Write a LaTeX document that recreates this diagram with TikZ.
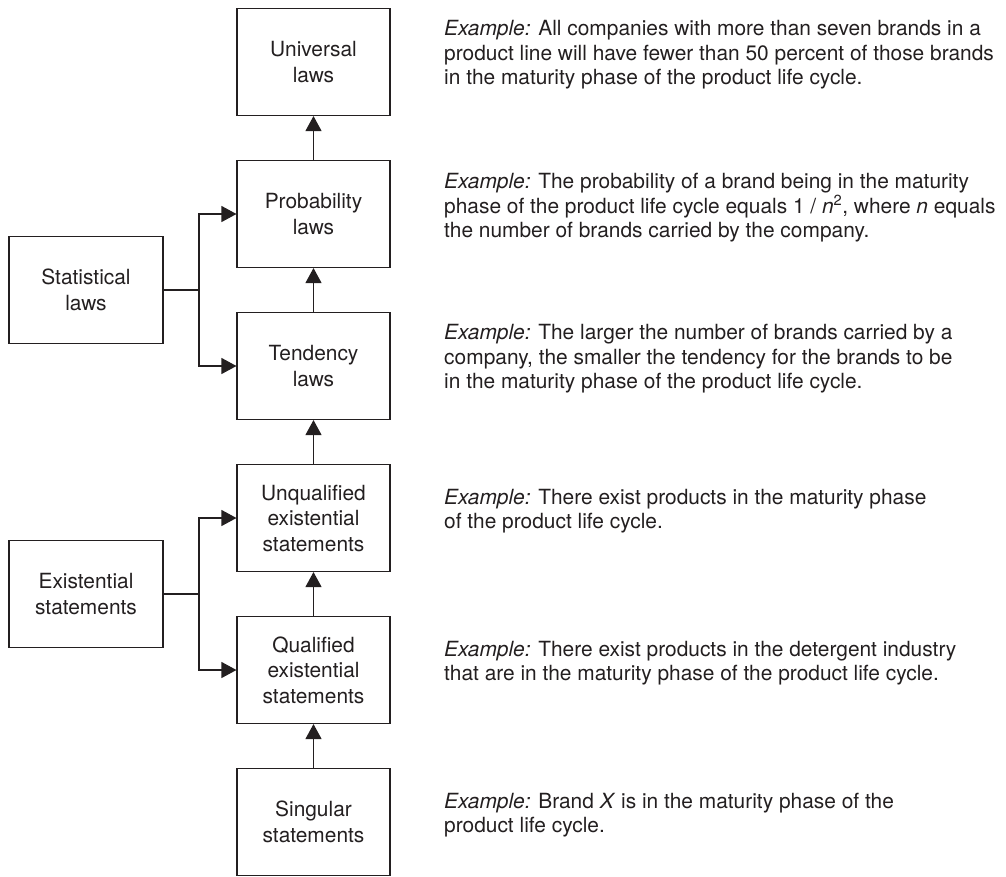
\documentclass[tikz,border=0pt]{standalone}
\usepackage{fontspec}
\setmainfont{TeX Gyre Heros}
\usepackage{tikz}
\usetikzlibrary{arrows.meta,positioning}
\usepackage{xcolor}
\definecolor{ink}{HTML}{231F20}
\newcommand{\eg}{\textit{Example:}}

\begin{document}
\begin{tikzpicture}[x=1pt,y=-1pt,
    lawbox/.style={draw=ink, line width=1.1pt, minimum width=153pt, minimum height=107pt,
      align=center, text=ink, font=\fontsize{20.9}{25.5}\selectfont},
    egtext/.style={anchor=west, align=left, text=ink, inner sep=0pt,
      font=\fontsize{20.9}{24.6}\selectfont},
    arr/.style={draw=ink, line width=1.1pt, -{Triangle[length=15pt,width=16pt]}}]
  \useasboundingbox (0,0) rectangle (1006,876);
  % ladder of statements
  \node[lawbox] (univ) at (313.5,62)  {Universal\\laws};
  \node[lawbox] (prob) at (313.5,214) {Probability\\laws};
  \node[lawbox] (tend) at (313.5,366) {Tendency\\laws};
  \node[lawbox] (unq)  at (313.5,518) {Unqualified\\existential\\statements};
  \node[lawbox] (qual) at (313.5,670) {Qualified\\existential\\statements};
  \node[lawbox] (sing) at (313.5,822) {Singular\\statements};
  % groups on the left
  \node[lawbox, minimum width=154pt] (stat) at (86,290) {Statistical\\laws};
  \node[lawbox, minimum width=154pt] (exis) at (86,594) {Existential\\statements};
  \coordinate (statj) at (199,290);
  \coordinate (exisj) at (199,594);
  \draw[arr] (sing) -- (qual);
  \draw[arr] (qual) -- (unq);
  \draw[arr] (unq) -- (tend);
  \draw[arr] (tend) -- (prob);
  \draw[arr] (prob) -- (univ);
  \draw[arr] (stat.east) -- (statj) |- (prob.west);
  \draw[arr] (statj) |- (tend.west);
  \draw[arr] (exis.east) -- (exisj) |- (unq.west);
  \draw[arr] (exisj) |- (qual.west);
  % examples
  \node[egtext] (exuniv) at (444,55) {\eg{} All companies with more than seven brands in a\\
    product line will have fewer than 50 percent of those brands\\
    in the maturity phase of the product life cycle.};
  \node[egtext] (exprob) at (444,208) {\eg{} The probability of a brand being in the maturity\\
    phase of the product life cycle equals 1 / \textit{n}\textsuperscript{2}, where \textit{n} equals\\
    the number of brands carried by the company.};
  \node[egtext] (extend) at (444,359) {\eg{} The larger the number of brands carried by a\\
    company, the smaller the tendency for the brands to be\\
    in the maturity phase of the product life cycle.};
  \node[egtext] (exunq) at (444,511) {\eg{} There exist products in the maturity phase\\
    of the product life cycle.};
  \node[egtext] (exqual) at (444,663) {\eg{} There exist products in the detergent industry\\
    that are in the maturity phase of the product life cycle.};
  \node[egtext] (exsing) at (444,815) {\eg{} Brand \textit{X} is in the maturity phase of the\\
    product life cycle.};
\end{tikzpicture}
\end{document}
